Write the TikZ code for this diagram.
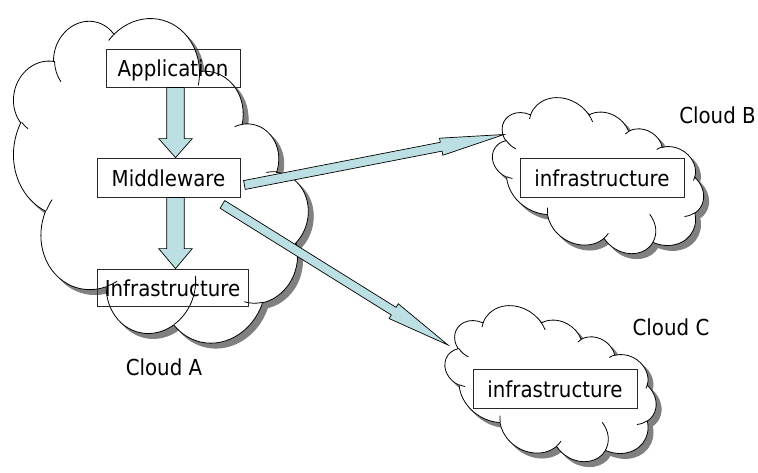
\documentclass[tikz,border=0pt]{standalone}
\usepackage{fontspec}
\setmainfont{DejaVu Sans}[FakeStretch=0.9]
\usetikzlibrary{calc}

\definecolor{arrowblue}{RGB}{187,223,226}
\definecolor{shadowgray}{RGB}{128,128,128}
\definecolor{boxline}{RGB}{40,40,40}

% One arc of the cloud outline.  Angles are the directions seen from the
% centre of the ellipse; they are turned into parametric angles here.
\newcommand\defcloudarc[5]{%
  \pgfmathsetmacro\cS{atan2((#2)*sin(#4),(#3)*cos(#4))}%
  \pgfmathsetmacro\cE{atan2((#2)*sin((#4)+(#5)),(#3)*cos((#4)+(#5)))}%
  \pgfmathsetmacro\cD{\cE-\cS}%
  \pgfmathsetmacro\cD{\cD<0 ? \cD+360 : \cD}%
  \expandafter\xdef\csname #1\endcsname{arc[x radius=#2, y radius=#3, start angle=\cS, delta angle=\cD]}%
}
% outer outline (shape box 43.2 x 43.2, y pointing down)
\defcloudarc{arcOa}{6.753}{9.190}{-190.48748}{123.78053}
\defcloudarc{arcOb}{5.333}{7.267}{-144.10238}{89.94523}
\defcloudarc{arcOc}{4.365}{5.945}{-145.80792}{99.72302}
\defcloudarc{arcOd}{4.857}{6.595}{-130.98607}{117.24173}
\defcloudarc{arcOe}{5.333}{7.273}{-78.70888}{109.02692}
\defcloudarc{arcOf}{6.775}{9.220}{-46.26725}{130.269}
\defcloudarc{arcOg}{5.785}{7.867}{0.62502}{114.03333}
\defcloudarc{arcOh}{6.752}{9.215}{22.4516}{115.17255}
\defcloudarc{arcOi}{7.720}{10.543}{66.24263}{75.71102}
\defcloudarc{arcOj}{4.360}{5.918}{-274.94208}{146.73557}
\defcloudarc{arcOk}{4.345}{5.945}{-246.8285}{152.51885}
% short inner strokes between the puffs
\defcloudarc{arcIa}{4.345}{5.945}{86.742}{26.4295}
\defcloudarc{arcIb}{4.360}{5.918}{73.61047}{11.44747}
\defcloudarc{arcIc}{6.752}{9.215}{137.62415}{14.0811}
\defcloudarc{arcId}{6.752}{9.215}{6.45327}{15.99835}
\defcloudarc{arcIe}{5.785}{7.867}{-70.29235}{70.91737}
\defcloudarc{arcIf}{5.333}{7.273}{30.31803}{27.7515}
\defcloudarc{arcIg}{4.857}{6.595}{-13.74433}{14.8589}
\defcloudarc{arcIh}{4.857}{6.595}{-149.18145}{18.19537}
\defcloudarc{arcIi}{4.365}{5.945}{-163.49427}{17.68635}
\defcloudarc{arcIj}{6.753}{9.190}{-66.70695}{12.31935}
\defcloudarc{arcIk}{6.753}{9.190}{157.65435}{11.85817}

\def\cloudouter{(3.9,14.37) \arcOa \arcOb \arcOc \arcOd \arcOe \arcOf
  \arcOg \arcOh \arcOi \arcOj \arcOk -- cycle}
\def\cloudinner{(4.693,26.177) \arcIa (6.928,34.899) \arcIb
  (16.478,39.090) \arcIc (28.827,34.751) \arcId (34.129,22.954) \arcIe
  (41.798,15.354) \arcIf (38.324,5.426) \arcIg (29.078,3.952) \arcIh
  (22.141,4.720) \arcIi (14.000,5.192) \arcIj (4.127,15.789) \arcIk}

\tikzset{
  cloudshadow/.style={fill=shadowgray, draw=shadowgray, line width=0.8pt},
  cloudbody/.style={fill=white, draw=black, line width=0.8pt},
  cloudseam/.style={draw=black, line width=0.8pt},
  layerbox/.style={draw=boxline, line width=0.8pt, inner sep=0pt,
    text height=17pt, text depth=0pt},
  cloudlabel/.style={anchor=base, inner sep=0pt},
  arrowbody/.style={fill=arrowblue, draw=black, line width=0.7pt, line join=miter},
  every node/.style={font=\fontsize{22}{26}\selectfont}
}

% tilted cloud with drop shadow:
% centre x, centre y, width, height, tilt, horizontal and vertical stretch
\newcommand\drawcloud[7]{%
  \begin{scope}[shift={(#1+5,#2+5)}, xscale=#6, yscale=#7, rotate=#5,
      xscale=#3/43.2, yscale=#4/43.2, shift={(-21.6,-21.6)}]
    \path[cloudshadow] \cloudouter;
  \end{scope}
  \begin{scope}[shift={(#1,#2)}, xscale=#6, yscale=#7, rotate=#5,
      xscale=#3/43.2, yscale=#4/43.2, shift={(-21.6,-21.6)}]
    \path[cloudbody] \cloudouter;
    \path[cloudseam] \cloudinner;
  \end{scope}}

% block arrow: tail, tip, shaft half width, head half width, head length
\newcommand\blockarrow[5]{%
  \coordinate (ba-h) at ($(#2)!#5!(#1)$);
  \path[arrowbody] ($(#1)!#3!90:(#2)$) -- ($(ba-h)!#3!90:(#2)$)
    -- ($(ba-h)!#4!90:(#2)$) -- (#2) -- ($(ba-h)!#4!-90:(#2)$)
    -- ($(ba-h)!#3!-90:(#2)$) -- ($(#1)!#3!-90:(#2)$) -- cycle;}

\begin{document}
\begin{tikzpicture}[x=1pt, y=1pt, yscale=-1]
  \useasboundingbox[fill=white] (0,0) rectangle (758,472);

  % clouds
  \drawcloud{151.3}{183.5}{330}{258}{56.7}{0.964}{1.095}
  \drawcloud{597}{179}{212}{131}{29.6}{1.025}{1.04}
  \drawcloud{549.5}{387}{212}{131}{29.6}{1.025}{1.04}

  % layer boxes
  \node[layerbox, minimum width=134pt, minimum height=38pt] (app) at (173,68) {Application};
  \node[layerbox, minimum width=143pt, minimum height=39pt] (mw) at (168.5,177.5) {Middleware};
  \node[layerbox, minimum width=151pt, minimum height=37pt] (infA) at (172.5,287.5) {Infrastructure};
  \node[layerbox, minimum width=164pt, minimum height=39pt] (infB) at (602,177.5) {infrastructure};
  \node[layerbox, minimum width=164pt, minimum height=39pt] (infC) at (555,388.5) {infrastructure};

  % cloud names
  \node[cloudlabel] (labA) at (164,375) {Cloud A};
  \node[cloudlabel] (labB) at (717.5,123) {Cloud B};
  \node[cloudlabel] (labC) at (671,335) {Cloud C};

  % arrows inside cloud A
  \coordinate (stack) at (175.5,0);
  \coordinate (t1) at (app.south -| stack);
  \coordinate (h1) at (mw.north -| stack);
  \coordinate (t2) at (mw.south -| stack);
  \coordinate (h2) at (infA.north -| stack);
  \blockarrow{t1}{h1}{8.8pt}{16.8pt}{19pt}
  \blockarrow{t2}{h2}{8.8pt}{16.8pt}{20pt}

  % arrows out to the other clouds
  \coordinate (tB) at ($(mw.east)+(4,7.5)$);
  \coordinate (inB) at (504,134.5);
  \coordinate (tC) at ($(mw.south east)+(-18,7)$);
  \coordinate (inC) at (448,345);
  \blockarrow{tB}{inB}{4.5pt}{8.7pt}{64pt}
  \blockarrow{tC}{inC}{4.5pt}{8.7pt}{64pt}
\end{tikzpicture}
\end{document}
